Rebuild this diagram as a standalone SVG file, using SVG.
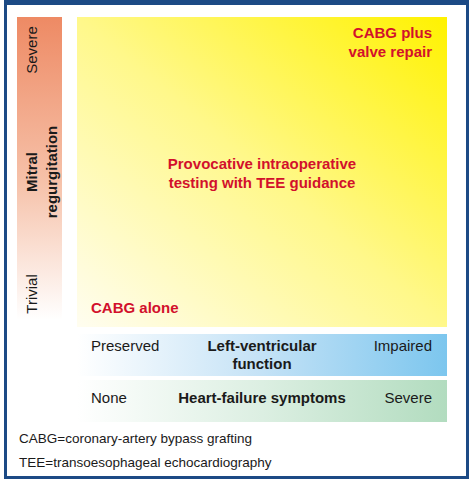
<svg xmlns="http://www.w3.org/2000/svg" width="475" height="485" viewBox="0 0 475 485">
<defs>
<linearGradient id="gMR" x1="0" y1="0" x2="0" y2="1">
<stop offset="0" stop-color="#ee8a64"/>
<stop offset="0.55" stop-color="#f6c2aa"/>
<stop offset="1" stop-color="#ffffff"/>
</linearGradient>
<linearGradient id="gY" x1="1" y1="0" x2="0" y2="1">
<stop offset="0" stop-color="#fff200"/>
<stop offset="0.5" stop-color="#fff88a"/>
<stop offset="1" stop-color="#fffdf0"/>
</linearGradient>
<linearGradient id="gLV" x1="0" y1="0" x2="1" y2="0">
<stop offset="0" stop-color="#ffffff"/>
<stop offset="0.5" stop-color="#c4e2f6"/>
<stop offset="1" stop-color="#7cc6ee"/>
</linearGradient>
<linearGradient id="gHF" x1="0" y1="0" x2="1" y2="0">
<stop offset="0" stop-color="#ffffff"/>
<stop offset="0.5" stop-color="#dcefe2"/>
<stop offset="1" stop-color="#b2dcbf"/>
</linearGradient>
</defs>
<style>
text{font-family:"Liberation Sans",Arial,sans-serif;font-size:15px;fill:#1a1a1a}
.b{font-weight:bold}
.r{fill:#d2102c;font-weight:bold}
.m{text-anchor:middle}
.e{text-anchor:end}
.f{font-size:13.5px}
</style>
<rect x="0" y="0" width="475" height="485" fill="#ffffff"/>
<rect x="5.5" y="2.5" width="462" height="475" fill="#ffffff" stroke="#1c4a85" stroke-width="3"/>
<rect x="4" y="0" width="465" height="5" fill="#1c4a85"/>
<g id="mitral-axis">
<rect x="17" y="17" width="45" height="303" fill="url(#gMR)"/>
<text class="m" transform="translate(37,50) rotate(-90)">Severe</text>
<text class="b m" transform="translate(37,172) rotate(-90)">Mitral</text>
<text class="b m" transform="translate(57,172) rotate(-90)">regurgitation</text>
<text class="m" transform="translate(37,294) rotate(-90)">Trivial</text>
</g>
<g id="decision-area">
<rect x="77" y="17" width="370" height="310" fill="url(#gY)"/>
<text class="r e" x="432" y="38">CABG plus</text>
<text class="r e" x="432" y="57">valve repair</text>
<text class="r m" x="262" y="169">Provocative intraoperative</text>
<text class="r m" x="262" y="188">testing with TEE guidance</text>
<text class="r" x="91" y="313">CABG alone</text>
</g>
<g id="lv-axis">
<rect x="77" y="334" width="370" height="42" fill="url(#gLV)"/>
<text x="91" y="351">Preserved</text>
<text class="b m" x="262" y="351">Left-ventricular</text>
<text class="b m" x="262" y="369">function</text>
<text class="e" x="432" y="351">Impaired</text>
</g>
<g id="hf-axis">
<rect x="77" y="380" width="370" height="42" fill="url(#gHF)"/>
<text x="91" y="403">None</text>
<text class="b m" x="262" y="403">Heart-failure symptoms</text>
<text class="e" x="432" y="403">Severe</text>
</g>
<g id="footnotes">
<text class="f" x="19" y="443">CABG=coronary-artery bypass grafting</text>
<text class="f" x="19" y="467">TEE=transoesophageal echocardiography</text>
</g>
<g id="connectors"></g>
</svg>
